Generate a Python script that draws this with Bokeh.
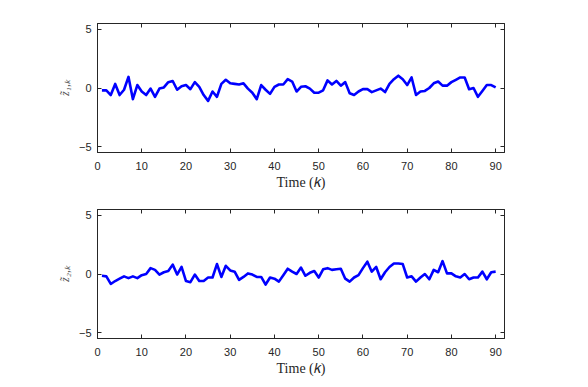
from bokeh.plotting import figure
from bokeh.models import LinearAxis, FixedTicker, Range1d
from bokeh.layouts import column
from bokeh.embed import file_html
from bokeh.resources import INLINE

k = list(range(1, 91))
z1 = [-0.2, -0.2, -0.6, 0.35, -0.6, -0.15, 0.95, -0.95, 0.25, -0.3,
      -0.6, -0.05, -0.75, -0.05, 0.05, 0.5, 0.6, -0.15, 0.15, 0.25,
      -0.1, 0.5, 0.1, -0.6, -1.1, -0.3, -0.75, 0.35, 0.7, 0.4,
      0.35, 0.3, 0.4, -0.05, -0.4, -0.95, 0.25, -0.15, -0.5, 0.1,
      0.3, 0.3, 0.75, 0.55, -0.3, 0.1, 0.15, -0.05, -0.4, -0.4,
      -0.2, 0.65, 0.3, 0.6, 0.2, 0.5, -0.45, -0.6, -0.3, -0.1,
      -0.1, -0.35, -0.2, -0.05, -0.35, 0.35, 0.75, 1.05, 0.75, 0.25,
      0.9, -0.6, -0.3, -0.25, 0.0, 0.4, 0.55, 0.2, 0.2, 0.5,
      0.7, 0.9, 0.9, -0.1, 0.0, -0.75, -0.25, 0.25, 0.25, 0.05]
z2 = [-0.15, -0.2, -0.85, -0.6, -0.4, -0.2, -0.35, -0.2, -0.35, -0.1,
      0.0, 0.5, 0.35, -0.05, 0.15, 0.25, 0.8, -0.05, 0.6, -0.6,
      -0.7, -0.05, -0.6, -0.6, -0.3, -0.3, 0.85, -0.25, 0.7, 0.3,
      0.2, -0.5, -0.25, 0.05, -0.05, -0.25, -0.25, -0.9, -0.3, -0.4,
      -0.65, -0.1, 0.45, 0.2, 0.0, 0.55, -0.15, 0.1, 0.25, -0.3,
      0.4, 0.5, 0.35, 0.4, 0.45, -0.4, -0.65, -0.3, -0.1, 0.5,
      1.05, 0.2, 0.6, -0.45, 0.15, 0.6, 0.9, 0.9, 0.85, -0.3,
      -0.2, -0.65, -0.3, 0.0, -0.45, 0.35, 0.15, 1.1, 0.05, 0.05,
      -0.2, -0.3, 0.0, -0.45, -0.3, -0.3, 0.2, -0.45, 0.15, 0.2]
x_ticks = [0, 10, 20, 30, 40, 50, 60, 70, 80, 90]
y_ticks = [-5, 0, 5]
x_label = "Time (𝑘)"
y_labels = ["z̃₁,ₖ", "z̃₂,ₖ"]

AX = "#262626"


def style_axis(ax, ticks, show_labels):
    ax.ticker = FixedTicker(ticks=ticks)
    ax.axis_line_color = AX
    ax.axis_line_width = 1
    ax.major_tick_line_color = AX
    ax.major_tick_in = 4
    ax.major_tick_out = 0
    ax.minor_tick_line_color = None
    ax.major_label_text_font = "Liberation Sans"
    ax.major_label_text_font_size = "11px"
    ax.major_label_text_color = AX if show_labels else None
    if not show_labels:
        ax.major_label_text_font_size = "1px"
        ax.major_label_standoff = 0


def make(y, ylab, top_border, bottom_border):
    p = figure(frame_width=407, frame_height=129,
               x_range=Range1d(0, 92), y_range=Range1d(-5.5, 5.5),
               output_backend="svg", toolbar_location=None,
               min_border_left=97, min_border_right=70,
               min_border_top=top_border, min_border_bottom=bottom_border,
               background_fill_color="white", border_fill_color="white")
    p.grid.visible = False
    p.outline_line_color = AX
    p.outline_line_width = 1
    style_axis(p.xaxis[0], x_ticks, True)
    style_axis(p.yaxis[0], y_ticks, True)
    p.xaxis[0].major_label_standoff = 9
    p.yaxis[0].major_label_standoff = 6
    p.xaxis[0].axis_label = x_label
    p.xaxis[0].axis_label_text_font = "Liberation Serif"
    p.xaxis[0].axis_label_text_font_style = "normal"
    p.xaxis[0].axis_label_text_font_size = "14px"
    p.xaxis[0].axis_label_text_color = AX
    p.xaxis[0].axis_label_standoff = 2
    p.yaxis[0].axis_label = ylab
    p.yaxis[0].axis_label_text_font = "Liberation Serif"
    p.yaxis[0].axis_label_text_font_style = "italic"
    p.yaxis[0].axis_label_text_font_size = "12px"
    p.yaxis[0].axis_label_text_color = "#555555"
    p.yaxis[0].axis_label_standoff = 4
    top = LinearAxis()
    style_axis(top, x_ticks, False)
    p.add_layout(top, "above")
    right = LinearAxis()
    style_axis(right, y_ticks, False)
    p.add_layout(right, "right")
    p.line(k, y, line_color="#0000ff", line_width=2.6, line_join="round")
    return p


p1 = make(z1, y_labels[0], 23, 38)
p2 = make(z2, y_labels[1], 17, 38)
layout = column(p1, p2, spacing=0)

open("out.html", "w").write(file_html(layout, INLINE))
